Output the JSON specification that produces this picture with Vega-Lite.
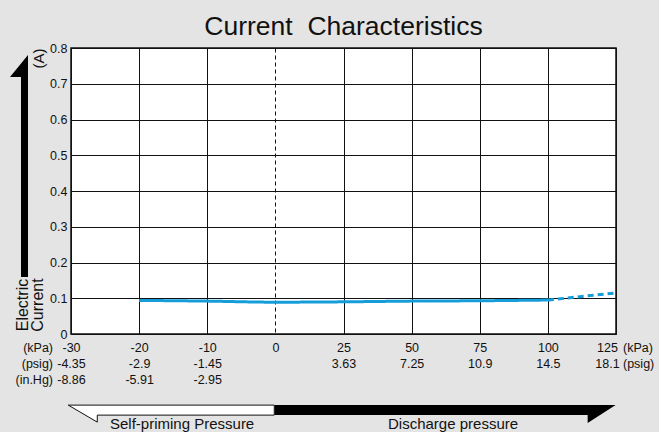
{
  "$schema": "https://vega.github.io/schema/vega-lite/v6.json",
  "width": 545,
  "height": 286,
  "autosize": {"type": "none"},
  "padding": {"left": 71, "top": 48, "right": 43, "bottom": 98},
  "background": "#e4e4e4",
  "config": {
    "font": "Liberation Sans",
    "view": {"fill": "white", "stroke": "#111111", "strokeWidth": 1.5},
    "text": {"font": "Liberation Sans", "fontWeight": "normal"}
  },
  "title": {
    "text": "Current\u00a0 Characteristics",
    "fontSize": 26.5,
    "fontWeight": "normal",
    "font": "Liberation Sans",
    "color": "#111111",
    "anchor": "middle",
    "baseline": "alphabetic",
    "offset": 13,
    "dy": 32
  },
  "data": {
    "values": [
      {"kpa": -20, "current": 0.094, "segment": "measured"},
      {"kpa": -10, "current": 0.092, "segment": "measured"},
      {"kpa": 0, "current": 0.089, "segment": "measured"},
      {"kpa": 25, "current": 0.09, "segment": "measured"},
      {"kpa": 50, "current": 0.092, "segment": "measured"},
      {"kpa": 75, "current": 0.093, "segment": "measured"},
      {"kpa": 100, "current": 0.095, "segment": "measured"},
      {"kpa": 100, "current": 0.095, "segment": "estimated"},
      {"kpa": 125, "current": 0.115, "segment": "estimated"}
    ]
  },
  "layer": [
    {
      "mark": {"type": "line", "strokeWidth": 3, "color": "#149dd8", "interpolate": "monotone"},
      "encoding": {
        "x": {
          "field": "kpa",
          "type": "ordinal",
          "sort": null,
          "scale": {"type": "point", "padding": 0, "domain": [-30, -20, -10, 0, 25, 50, 75, 100, 125]},
          "axis": {
            "title": null,
            "orient": "bottom",
            "grid": true,
            "gridColor": "#111111",
            "gridWidth": 1,
            "gridOpacity": 1,
            "gridDash": {"condition": {"test": "datum.value === 0", "value": [4, 3]}, "value": []},
            "ticks": false,
            "domain": false,
            "labelFont": "Liberation Sans",
            "labelFontSize": 12.5,
            "labelColor": "#111111",
            "labelPadding": 7,
            "labelBaseline": "top",
            "labelLineHeight": 16,
            "labelAngle": 0,
            "labelOverlap": false,
            "labelBound": false,
            "labelFlush": false,
            "labelOffset": {"condition": {"test": "datum.value === 125", "value": -9}, "value": 0},
            "labelExpr": "datum.value === -30 ? ['-30','-4.35','-8.86'] : datum.value === -20 ? ['-20','-2.9','-5.91'] : datum.value === -10 ? ['-10','-1.45','-2.95'] : datum.value === 0 ? '0' : datum.value === 25 ? ['25','3.63'] : datum.value === 50 ? ['50','7.25'] : datum.value === 75 ? ['75','10.9'] : datum.value === 100 ? ['100','14.5'] : ['125','18.1']"
          }
        },
        "y": {
          "field": "current",
          "type": "quantitative",
          "scale": {"domain": [0, 0.8], "nice": false},
          "axis": {
            "title": "(A)",
            "grid": true,
            "gridColor": "#111111",
            "gridOpacity": 1,
            "ticks": false,
            "domain": false,
            "values": [0, 0.1, 0.2, 0.3, 0.4, 0.5, 0.6, 0.7, 0.8],
            "tickCount": 20,
            "labelOverlap": false,
            "format": "~g",
            "labelFont": "Liberation Sans",
            "labelFontSize": 12.5,
            "labelColor": "#111111",
            "labelPadding": 4,
            "titleFont": "Liberation Sans",
            "titleFontSize": 15,
            "titleFontWeight": "normal",
            "titleColor": "#111111",
            "titleAngle": 270,
            "titleAlign": "right",
            "titleBaseline": "middle",
            "titleX": -33,
            "titleY": 0
          }
        },
        "strokeDash": {
          "field": "segment",
          "type": "nominal",
          "scale": {"domain": ["measured", "estimated"], "range": [[1, 0], [6, 4]]},
          "legend": null
        }
      }
    },
    {
      "data": {"values": [{}]},
      "mark": {"type": "text", "font": "Liberation Sans", "fontWeight": "normal", "align": "right", "baseline": "alphabetic", "fontSize": 12.5, "lineHeight": 16, "fill": "#111111", "xOffset": -18, "yOffset": 18},
      "encoding": {
        "x": {"datum": -30, "type": "ordinal"},
        "y": {"datum": 0, "type": "quantitative"},
        "text": {"value": ["(kPa)", "(psig)", "(in.Hg)"]}
      }
    },
    {
      "data": {"values": [{}]},
      "mark": {"type": "text", "font": "Liberation Sans", "fontWeight": "normal", "align": "left", "baseline": "alphabetic", "fontSize": 12.5, "lineHeight": 16, "fill": "#111111", "xOffset": 7, "yOffset": 18},
      "encoding": {
        "x": {"datum": 125, "type": "ordinal"},
        "y": {"datum": 0, "type": "quantitative"},
        "text": {"value": ["(kPa)", "(psig)"]}
      }
    },
    {
      "data": {"values": [{}]},
      "mark": {"type": "text", "font": "Liberation Sans", "fontWeight": "normal", "align": "center", "baseline": "middle", "angle": 270, "fontSize": 16, "lineHeight": 15, "fill": "#111111", "xOffset": -48.5},
      "encoding": {
        "x": {"datum": -30, "type": "ordinal"},
        "y": {"datum": 0.081, "type": "quantitative"},
        "text": {"value": ["Electric", "Current"]}
      }
    },
    {
      "data": {"values": [{}]},
      "mark": {"type": "point", "shape": "M0.081,-1L0.081,1L0.018,1L0.018,-0.802L-0.081,-0.802Z", "size": 49284, "filled": true, "fill": "#000000", "strokeWidth": 0, "opacity": 1, "xOffset": -52},
      "encoding": {
        "x": {"datum": -30, "type": "ordinal"},
        "y": {"datum": 0.47, "type": "quantitative"}
      }
    },
    {
      "data": {"values": [{}]},
      "mark": {"type": "point", "shape": "M-1,-0.0825L1,-0.0825L1,0.0146L-0.718,0.0146L-0.718,0.0825Z", "size": 42436, "filled": true, "fill": "#ffffff", "stroke": "#111111", "strokeWidth": 1, "opacity": 1, "xOffset": -36},
      "encoding": {
        "x": {"datum": -10, "type": "ordinal"},
        "y": {"datum": -0.2227, "type": "quantitative"}
      }
    },
    {
      "data": {"values": [{}]},
      "mark": {"type": "point", "shape": "M-1,-0.0528L1,-0.0528L0.836,0.0528L0.836,0.0059L-1,0.0059Z", "size": 116281, "filled": true, "fill": "#000000", "strokeWidth": 0, "opacity": 1, "xOffset": 33.5},
      "encoding": {
        "x": {"datum": 50, "type": "ordinal"},
        "y": {"datum": -0.2241, "type": "quantitative"}
      }
    },
    {
      "data": {"values": [{}]},
      "mark": {"type": "text", "font": "Liberation Sans", "fontWeight": "normal", "align": "left", "baseline": "alphabetic", "fontSize": 15, "fill": "#111111", "xOffset": 39},
      "encoding": {
        "x": {"datum": -30, "type": "ordinal"},
        "y": {"datum": -0.2657, "type": "quantitative"},
        "text": {"value": "Self-priming Pressure"}
      }
    },
    {
      "data": {"values": [{}]},
      "mark": {"type": "text", "font": "Liberation Sans", "fontWeight": "normal", "align": "left", "baseline": "alphabetic", "fontSize": 15, "fill": "#111111", "xOffset": 44.5},
      "encoding": {
        "x": {"datum": 25, "type": "ordinal"},
        "y": {"datum": -0.2657, "type": "quantitative"},
        "text": {"value": "Discharge pressure"}
      }
    }
  ]
}
